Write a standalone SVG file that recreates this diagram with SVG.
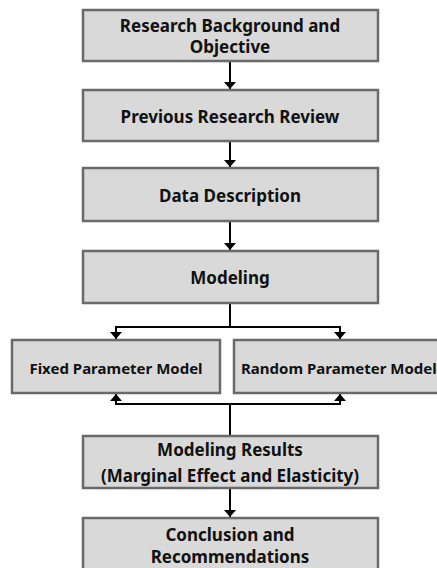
<svg xmlns="http://www.w3.org/2000/svg" width="437" height="568" viewBox="0 0 437 568">
<defs>
<style>
.box{fill:#d9d9d9;stroke:#6a6a6a;stroke-width:2.5}
.t{font-family:"Noto Sans","Liberation Sans",sans-serif;font-weight:bold;font-size:17px;fill:#111;text-anchor:middle}
.s{font-size:15px}
.ln{stroke:#000;stroke-width:2;fill:none}
</style>
<marker id="ah" viewBox="0 0 7 12" refX="7" refY="6" markerWidth="7" markerHeight="12" markerUnits="userSpaceOnUse" orient="auto">
<path d="M0,0 L7,6 L0,12 Z" fill="#000"/>
</marker>
</defs>
<rect width="437" height="568" fill="#fff"/>
<g id="connectors">
<line class="ln" x1="230" y1="62" x2="230" y2="89" marker-end="url(#ah)"/>
<line class="ln" x1="230" y1="142" x2="230" y2="167" marker-end="url(#ah)"/>
<line class="ln" x1="230" y1="222" x2="230" y2="250" marker-end="url(#ah)"/>
<polyline class="ln" points="230,304 230,327 116,327 116,339" marker-end="url(#ah)"/>
<polyline class="ln" points="230,327 340,327 340,339" marker-end="url(#ah)"/>
<polyline class="ln" points="230,435 230,404 116,404 116,394" marker-end="url(#ah)"/>
<polyline class="ln" points="230,404 340,404 340,394" marker-end="url(#ah)"/>
<line class="ln" x1="230" y1="489" x2="230" y2="517" marker-end="url(#ah)"/>
</g>
<g id="n1"><rect class="box" x="83" y="10" width="295" height="51"/><text class="t" x="230" y="32">Research Background and</text><text class="t" x="230" y="53">Objective</text></g>
<g id="n2"><rect class="box" x="83" y="90" width="295" height="51"/><text class="t" x="230" y="123">Previous Research Review</text></g>
<g id="n3"><rect class="box" x="83" y="168" width="295" height="53"/><text class="t" x="230" y="202">Data Description</text></g>
<g id="n4"><rect class="box" x="83" y="251" width="295" height="52"/><text class="t" x="230" y="284">Modeling</text></g>
<g id="n5"><rect class="box" x="12" y="340" width="208" height="53"/><text class="t s" x="116" y="374">Fixed Parameter Model</text></g>
<g id="n6"><rect class="box" x="234" y="340" width="220" height="53"/><text class="t s" x="241" y="374" style="text-anchor:start">Random Parameter Model</text></g>
<g id="n7"><rect class="box" x="83" y="436" width="295" height="52"/><text class="t" x="230" y="456">Modeling Results</text><text class="t" x="230" y="482">(Marginal Effect and Elasticity)</text></g>
<g id="n8"><rect class="box" x="83" y="518" width="295" height="60"/><text class="t" x="230" y="541">Conclusion and</text><text class="t" x="230" y="563">Recommendations</text></g>
</svg>
